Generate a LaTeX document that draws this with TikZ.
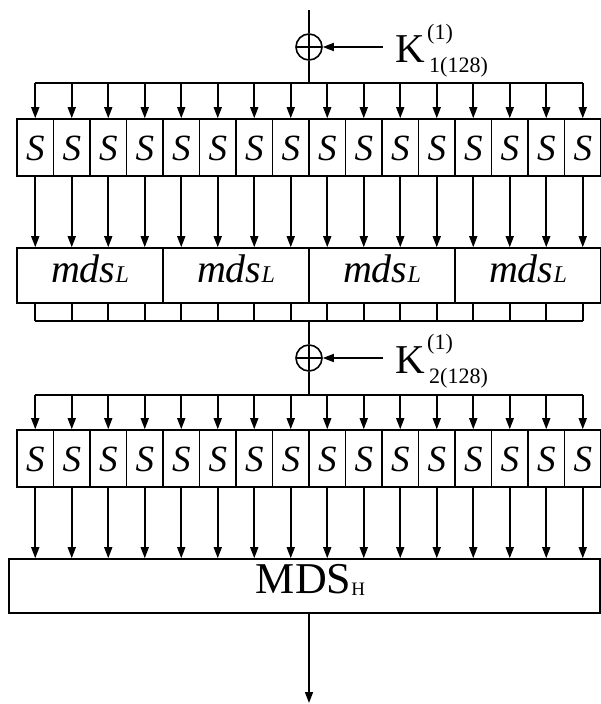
\documentclass[tikz,border=0pt]{standalone}
\usepackage{fontspec}
\setmainfont{Liberation Serif}
\usetikzlibrary{arrows.meta}
\begin{document}
\begin{tikzpicture}[x=1pt,y=-1pt,
  ln/.style={line width=1.6pt},
  arr/.style={ln,-{Triangle[length=11pt,width=8pt]}},
  sbox/.style={draw,ln,minimum width=36.5pt,minimum height=57pt,inner sep=0pt,text height=25pt,text depth=0pt,font=\fontsize{37}{40}\selectfont\itshape},
  mbox/.style={draw,ln,minimum width=146pt,minimum height=55pt,inner sep=0pt,text height=13pt,text depth=0pt,font=\fontsize{40}{44}\selectfont\itshape},
  bigbox/.style={draw,ln,minimum width=591pt,minimum height=54pt,inner sep=0pt,text height=14pt,text depth=0pt,font=\fontsize{44}{48}\selectfont},
  xor/.style={draw,ln,circle,minimum size=26pt,inner sep=0pt,path picture={\draw[ln] (path picture bounding box.west)--(path picture bounding box.east) (path picture bounding box.north)--(path picture bounding box.south);}},
  kbig/.style={inner ysep=0pt,inner xsep=12pt,font=\fontsize{41}{44}\selectfont},
  ksmall/.style={inner sep=0pt,font=\fontsize{22}{24}\selectfont},
]
\useasboundingbox (0,0) rectangle (601,704);
% ---- first key addition
\coordinate (top) at (309,10);
\node[xor] (x1) at (309,47) {};
\coordinate (b1) at (309,83);
\draw[ln] (top) -- (x1.north);
\draw[ln] (x1.south) -- (b1);
\node[kbig,anchor=base west] (k1) at (383,62) {K};
\node[ksmall,anchor=base west] (k1sup) at (427,39) {(1)};
\node[ksmall,anchor=base west] (k1sub) at (429,72) {1(128)};
\draw[arr] (k1.west |- x1.center) -- (x1.east);
% ---- first S layer
\foreach \i in {0,...,15}{
  \node[sbox] (s1-\i) at ({35.25+36.5*\i},147.5) {S};
  \draw[arr] (s1-\i.north |- b1) -- (s1-\i.north);
}
\draw[ln] (s1-0.north |- b1) -- (s1-15.north |- b1);
% ---- mds_L layer
\foreach \j in {0,...,3}{
  \node[mbox] (m\j) at ({90+146*\j},275.5) {mds{\fontsize{24}{26}\selectfont L}};
}
\coordinate (b2) at (309,321);
\foreach \i in {0,...,15}{
  \draw[arr] (s1-\i.south) -- (s1-\i.south |- m0.north);
  \draw[ln] (s1-\i.south |- m0.south) -- (s1-\i.south |- b2);
}
\draw[ln] (s1-0.south |- b2) -- (s1-15.south |- b2);
% ---- second key addition
\node[xor] (x2) at (309,358) {};
\coordinate (b3) at (309,395);
\draw[ln] (b2) -- (x2.north);
\draw[ln] (x2.south) -- (b3);
\node[kbig,anchor=base west] (k2) at (383,373) {K};
\node[ksmall,anchor=base west] (k2sup) at (427,349) {(1)};
\node[ksmall,anchor=base west] (k2sub) at (429,383) {2(128)};
\draw[arr] (k2.west |- x2.center) -- (x2.east);
% ---- second S layer
\node[bigbox] (mds) at (304.5,586) {\hspace{12pt}MDS\raisebox{-2pt}{\fontsize{19}{21}\selectfont H}};
\foreach \i in {0,...,15}{
  \node[sbox] (s2-\i) at ({35.25+36.5*\i},458.5) {S};
  \draw[arr] (s2-\i.north |- b3) -- (s2-\i.north);
  \draw[arr] (s2-\i.south) -- (s2-\i.south |- mds.north);
}
\draw[ln] (s2-0.north |- b3) -- (s2-15.north |- b3);
% ---- output
\coordinate (out) at (309,703);
\draw[arr] (x2 |- mds.south) -- (out);
\end{tikzpicture}
\end{document}
